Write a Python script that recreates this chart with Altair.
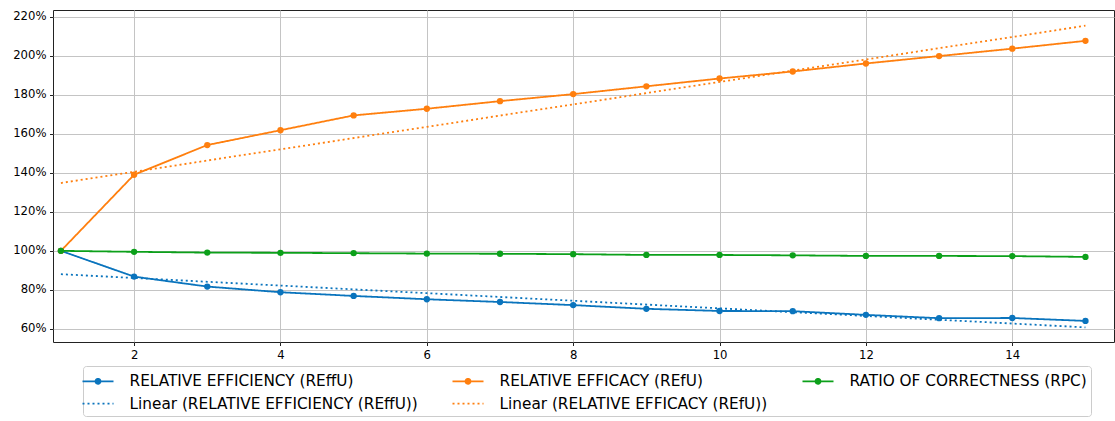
import altair as alt
import pandas as pd

# ---- data ----
x_vals = list(range(1, 16))
series_names = [
    "RELATIVE EFFICIENCY (REffU)",
    "RELATIVE EFFICACY (REfU)",
    "RATIO OF CORRECTNESS (RPC)",
]
linear_names = [
    "Linear (RELATIVE EFFICIENCY (REffU))",
    "Linear (RELATIVE EFFICACY (REfU))",
]
reffu = [100, 86.8, 81.7, 78.8, 76.9, 75.2, 73.8, 72.2, 70.3, 69.2, 69.1, 67.2, 65.5, 65.6, 64.1]
refu = [100, 139.0, 154.2, 161.8, 169.4, 172.8, 176.7, 180.3, 184.3, 188.3, 191.9, 196.0, 199.8, 203.6, 207.6]
rpc = [100, 99.5, 99.1, 99.0, 98.8, 98.6, 98.5, 98.3, 97.9, 97.9, 97.7, 97.4, 97.4, 97.3, 96.9]
y_ticks = [60, 80, 100, 120, 140, 160, 180, 200, 220]
x_ticks = [2, 4, 6, 8, 10, 12, 14]

BLUE = "#0a74bd"
ORANGE = "#ff7f0e"
GREEN = "#0ca01a"

rows = []
for name, vals in zip(series_names, [reffu, refu, rpc]):
    for xv, yv in zip(x_vals, vals):
        rows.append({"series": name, "x": xv, "value": yv})
df = pd.DataFrame(rows)

# legend order (column-major): REffU, Linear REffU | REfU, Linear REfU | RPC
domain = [series_names[0], linear_names[0], series_names[1], linear_names[1], series_names[2]]
color_range = [BLUE, BLUE, ORANGE, ORANGE, GREEN]
dash_range = [[1, 0], [2, 3], [1, 0], [2, 3], [1, 0]]

DOT_PATH = "M-1.55,0H1.55M0.25,0A0.25,0.25,0,1,1,-0.25,0A0.25,0.25,0,1,1,0.25,0Z"
LINE_PATH = "M-1.55,0H1.55"

legend = alt.Legend(
    orient="none",
    legendX=30,
    legendY=356,
    columns=3,
    title=None,
    labelFont="DejaVu Sans",
    labelFontSize=15.3,
    labelColor="black",
    labelLimit=800,
    symbolSize=400,
    symbolStrokeWidth=1.8,
    symbolOpacity=1,
    symbolType={"expr": "indexof(datum.value, 'Linear') === 0 ? '" + LINE_PATH + "' : '" + DOT_PATH + "'"},
    symbolFillColor={"expr": "indexof(datum.value, 'Linear') === 0 ? 'transparent' : scale('color', datum.value)"},
    labelOffset=20.5,
    columnPadding=30,
    rowPadding=2.7,
    padding=4,
    strokeColor="#cccccc",
    fillColor="white",
    cornerRadius=3,
)

x_enc = alt.X(
    "x:Q",
    scale=alt.Scale(domain=[0.892, 15.39], nice=False, zero=False),
    axis=alt.Axis(values=x_ticks, format="d", title=None),
)
y_enc = alt.Y(
    "value:Q",
    scale=alt.Scale(domain=[53.3, 223.4], nice=False, zero=False),
    axis=alt.Axis(values=y_ticks, labelExpr="datum.value + '%'", title=None),
)
color_enc = alt.Color(
    "series:N",
    scale=alt.Scale(domain=domain, range=color_range),
    legend=legend,
)
dash_enc = alt.StrokeDash(
    "series:N",
    scale=alt.Scale(domain=domain, range=dash_range),
    legend=legend,
)

base = alt.Chart(df)

lines = base.mark_line(
    strokeWidth=1.8,
    point=alt.OverlayMarkDef(filled=True, size=40, opacity=1),
).encode(x=x_enc, y=y_enc, color=color_enc, strokeDash=dash_enc)

trends = (
    base.transform_filter(alt.datum.series != series_names[2])
    .transform_regression("x", "value", groupby=["series"], extent=[1, 15])
    .transform_calculate(series="'Linear (' + datum.series + ')'")
    .mark_line(strokeWidth=1.8)
    .encode(x=x_enc, y=y_enc, color=color_enc, strokeDash=dash_enc)
)

chart = (
    alt.layer(lines, trends)
    .properties(
        width=1061,
        height=332,
        autosize=alt.AutoSizeParams(type="none"),
        padding={"left": 53, "top": 10, "right": 1, "bottom": 79},
        background="white",
    )
    .configure_view(stroke="#222222", strokeWidth=1)
    .configure_axis(
        labelFont="DejaVu Sans",
        labelFontSize=11.65,
        labelColor="black",
        tickColor="#222222",
        tickSize=3.5,
        tickWidth=1,
        labelPadding=3.5,
        domain=False,
        gridColor="#c4c4c4",
        gridWidth=1,
    )
)

chart.save("out.html", embed_options={"renderer": "svg", "actions": False})
